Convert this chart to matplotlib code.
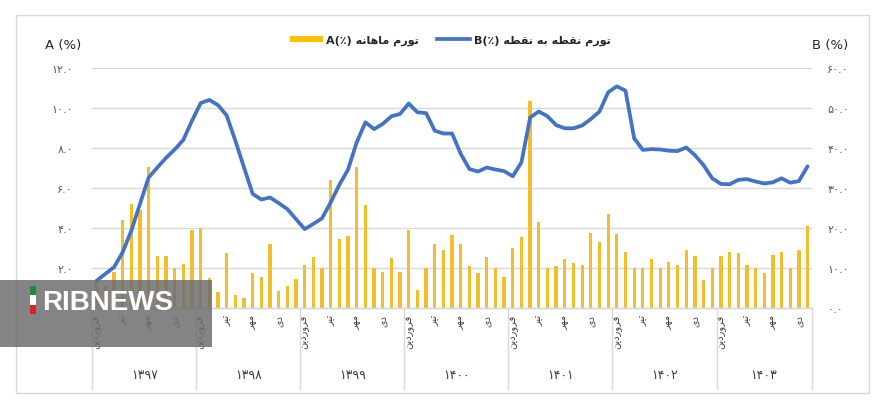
import matplotlib
matplotlib.use("Agg")
import matplotlib.pyplot as plt
import matplotlib.transforms as mtransforms
from matplotlib.patches import Rectangle, Patch
from matplotlib.lines import Line2D

# ---------------- data ----------------
years = ['1397', '1398', '1399', '1400', '1401', '1402', '1403']
months_in_year = [12, 12, 12, 12, 12, 12, 11]
month_labels = ['فروردین', 'تیر', 'مهر', 'دی']   # shown at months 1, 4, 7, 10
month_label_offsets = [0, 3, 6, 9]

monthly_A = [1.4, 1.1, 1.83, 4.43, 5.2, 4.9, 7.05, 2.63, 2.6, 2.02, 2.2, 3.92,
             4.0, 1.52, 0.8, 2.77, 0.67, 0.52, 1.75, 1.58, 3.2, 0.87, 1.12, 1.47,
             2.17, 2.55, 2.0, 6.43, 3.48, 3.6, 7.05, 5.17, 2.0, 1.83, 2.5, 1.83,
             3.93, 0.9, 2.0, 3.22, 2.93, 3.67, 3.23, 2.1, 1.75, 2.55, 2.0, 1.58,
             3.0, 3.58, 10.38, 4.33, 2.0, 2.13, 2.47, 2.25, 2.17, 3.75, 3.3, 4.73,
             3.72, 2.8, 2.02, 2.0, 2.47, 2.02, 2.33, 2.17, 2.9, 2.62, 1.4, 2.02,
             2.62, 2.83, 2.78, 2.18, 2.0, 1.75, 2.67, 2.83, 2.02, 2.9, 4.13]

point_B = [6.9, 8.6, 10.25, 14.0, 19.4, 26.1, 32.7, 35.2, 37.6, 39.7, 42.1, 46.9,
           51.3, 52.1, 50.8, 48.2, 41.9, 35.2, 28.6, 27.2, 27.7, 26.3, 24.8, 22.3,
           19.8, 21.1, 22.5, 26.5, 30.9, 34.7, 41.5, 46.5, 44.8, 46.1, 48.0, 48.6,
           51.2, 49.0, 48.8, 44.4, 43.7, 43.7, 38.6, 34.8, 34.2, 35.2, 34.7, 34.3,
           33.0, 36.5, 47.7, 49.2, 48.0, 45.8, 45.0, 45.0, 45.7, 47.3, 49.2, 54.0,
           55.5, 54.4, 42.5, 39.6, 39.8, 39.7, 39.4, 39.3, 40.2, 38.3, 35.8, 32.5,
           31.1, 31.0, 32.1, 32.3, 31.7, 31.2, 31.5, 32.5, 31.4, 31.8, 35.5]

left_ticks = [0, 2, 4, 6, 8, 10, 12]
right_ticks = [0, 10, 20, 30, 40, 50, 60]
legend_A = 'تورم ماهانه'
legend_B = 'تورم نقطه به نقطه'

# ---------------- Persian shaping helpers ----------------
FORMS = {
    'ا': ('\uFE8D', '\uFE8E', None, None),
    'ب': ('\uFE8F', '\uFE90', '\uFE91', '\uFE92'),
    'ت': ('\uFE95', '\uFE96', '\uFE97', '\uFE98'),
    'د': ('\uFEA9', '\uFEAA', None, None),
    'ر': ('\uFEAD', '\uFEAE', None, None),
    'ط': ('\uFEC1', '\uFEC2', '\uFEC3', '\uFEC4'),
    'ف': ('\uFED1', '\uFED2', '\uFED3', '\uFED4'),
    'ق': ('\uFED5', '\uFED6', '\uFED7', '\uFED8'),
    'م': ('\uFEE1', '\uFEE2', '\uFEE3', '\uFEE4'),
    'ن': ('\uFEE5', '\uFEE6', '\uFEE7', '\uFEE8'),
    'ه': ('\uFEE9', '\uFEEA', '\uFEEB', '\uFEEC'),
    'و': ('\uFEED', '\uFEEE', None, None),
    'ی': ('\uFBFC', '\uFBFD', '\uFBFE', '\uFBFF'),
}


def shape_word(w):
    out = []
    n = len(w)
    for k, ch in enumerate(w):
        f = FORMS.get(ch)
        if f is None:
            out.append(ch)
            continue
        prev_joins = k > 0 and w[k - 1] in FORMS and FORMS[w[k - 1]][2] is not None
        can_next = f[2] is not None and k < n - 1 and w[k + 1] in FORMS
        if prev_joins and can_next:
            out.append(f[3])
        elif prev_joins:
            out.append(f[1])
        elif can_next:
            out.append(f[2])
        else:
            out.append(f[0])
    return ''.join(reversed(out))


def fa(text):
    return ' '.join(shape_word(w) for w in reversed(text.split(' ')))


FA_DIGITS = str.maketrans('0123456789', '۰۱۲۳۴۵۶۷۸۹')


def fnum(s):
    return str(s).translate(FA_DIGITS)


# ---------------- figure ----------------
W, H = 883, 410
fig = plt.figure(figsize=(W / 100, H / 100), dpi=100)
plt.rcParams['font.family'] = ['DejaVu Sans']

x0, x1 = 92.3, 811.9
y_top, y_bot = 69.3, 309.3
ax = fig.add_axes([x0 / W, 1 - y_bot / H, (x1 - x0) / W, (y_bot - y_top) / H])
ax2 = ax.twinx()

n = len(monthly_A)
xs = list(range(n))
grid_c = '#D9D9D9'
bar_c = '#F5BD2C'
line_c = '#4472C4'
tick_c = '#595959'

ax.bar(xs, monthly_A, width=0.38, color=bar_c, zorder=2)
ax2.plot(xs, point_B, color=line_c, lw=2.7, solid_capstyle='round', solid_joinstyle='round', zorder=3)

ax.set_xlim(-0.5, n - 0.5)
ax.set_ylim(0, 12)
ax2.set_ylim(0, 60)
ax.set_yticks(left_ticks)
ax.set_yticklabels([fnum(f'{v:.1f}') for v in left_ticks])
ax2.set_yticks(right_ticks)
ax2.set_yticklabels([fnum(f'{v:.1f}') for v in right_ticks])
ax.tick_params(axis='y', length=0, pad=14, labelsize=8, labelcolor=tick_c)
ax2.tick_params(axis='y', length=0, pad=11, labelsize=8, labelcolor=tick_c)
ax.yaxis.grid(True, color=grid_c, lw=1.0, zorder=0)
ax.set_axisbelow(True)
for a in (ax, ax2):
    for s in ('left', 'right', 'top'):
        a.spines[s].set_visible(False)
    a.spines['bottom'].set_color(grid_c)
    a.spines['bottom'].set_linewidth(1.0)

# month tick labels
tick_pos, tick_lab = [], []
start = 0
bounds = [-0.5]
for yi, m in enumerate(months_in_year):
    for off, lab in zip(month_label_offsets, month_labels):
        if off < m:
            tick_pos.append(start + off)
            tick_lab.append(fa(lab))
    start += m
    bounds.append(start - 0.5)
ax.set_xticks(tick_pos)
ax.set_xticklabels(tick_lab, rotation=90, fontsize=7, color='#404040')
ax.tick_params(axis='x', length=0, pad=4)

# year group lines & labels
trans = mtransforms.blended_transform_factory(ax.transData, ax.transAxes)
y_line_end = -(390 - y_bot) / (y_bot - y_top)
for b in bounds:
    ax.plot([b, b], [0, y_line_end], transform=trans, color=grid_c, lw=1.0, clip_on=False)
y_year = -(376 - y_bot) / (y_bot - y_top)
for yi, yr in enumerate(years):
    c = (bounds[yi] + bounds[yi + 1]) / 2
    ax.text(c, y_year, fnum(yr), transform=trans, ha='center', va='center', fontsize=9, color='#404040')

# axis titles
fig.text(45 / W, 1 - 45 / H, 'A (%)', ha='left', va='center', fontsize=9.5, color='#262626')
fig.text(812 / W, 1 - 45 / H, 'B (%)', ha='left', va='center', fontsize=9.5, color='#262626')

# legend
hA = Patch(facecolor='#FFC000', edgecolor='none')
hB = Line2D([], [], color=line_c, lw=2.7)
leg = fig.legend([hA, hB], ['A(٪) ' + fa(legend_A), 'B(٪) ' + fa(legend_B)],
                 loc='center', bbox_to_anchor=(450 / W, 1 - 41 / H), ncol=2, frameon=False,
                 handlelength=3.0, handleheight=0.45, handletextpad=0.3, columnspacing=1.6,
                 prop={'weight': 'bold', 'size': 8})
for t in leg.get_texts():
    t.set_color('#262626')

# outer frame
fig.patches.append(Rectangle((16 / W, 1 - 394 / H), (869 - 16) / W, (394 - 16) / H,
                             transform=fig.transFigure, fill=False, edgecolor='#D9D9D9', lw=1.0))

# watermark overlay
fig.patches.append(Rectangle((0, 1 - 348 / H), 212 / W, (348 - 281) / H, transform=fig.transFigure,
                             facecolor='#6E6E6E', edgecolor='none', alpha=0.85, zorder=10))
for (ya, yb, col) in [(287, 296, '#1E8C3A'), (296, 306, '#FFFFFF'), (306, 315, '#D8232A')]:
    fig.patches.append(Rectangle((30 / W, 1 - yb / H), 6 / W, (yb - ya) / H, transform=fig.transFigure,
                                 facecolor=col, edgecolor='none', zorder=11))
fig.text(42 / W, 1 - 303 / H, 'RIBNEWS', ha='left', va='center', fontsize=20, weight='bold',
         family='Liberation Sans', color='white', zorder=12)

fig.savefig('out.png', dpi=100)
